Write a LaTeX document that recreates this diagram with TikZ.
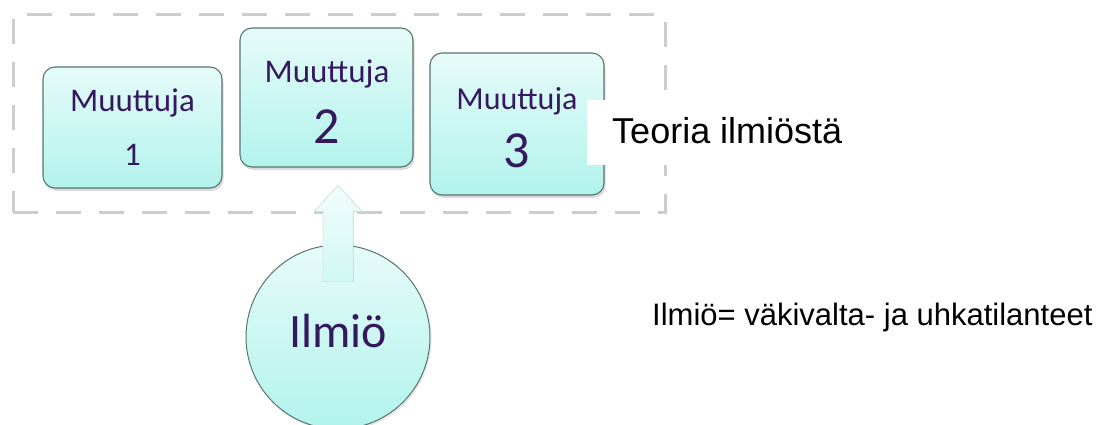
\documentclass[tikz,border=0pt]{standalone}
\usepackage{fontspec}
\setmainfont{Liberation Sans}
\newfontfamily\calib{Carlito}
\usetikzlibrary{shadows,calc}
\definecolor{boxtop}{HTML}{E6FBF9}
\definecolor{boxbot}{HTML}{B2F3EC}
\definecolor{boxedge}{HTML}{587572}
\definecolor{ink}{HTML}{35195F}
\definecolor{framegray}{HTML}{CDCDCD}
\definecolor{arrowtop}{HTML}{F3FDFC}
\definecolor{arrowbot}{HTML}{D0F8F4}
\definecolor{arrowedge}{HTML}{D2EAE7}
\begin{document}
\begin{tikzpicture}[x=1pt,y=-1pt,
  varbox/.style={draw=boxedge, line width=1.1pt, rounded corners=12pt,
    top color=boxtop, bottom color=boxbot, inner sep=0pt,
    drop shadow={opacity=0.28, shadow xshift=1.5pt, shadow yshift=-3pt}},
  bubble/.style={circle, draw=boxedge, line width=1pt, inner sep=0pt,
    top color=boxtop, bottom color=boxbot, minimum size=184pt,
    drop shadow={opacity=0.2, shadow xshift=1.5pt, shadow yshift=-2pt}},
  vtext/.style={text=ink, inner sep=0pt, anchor=base},
  note/.style={text=black, inner sep=0pt, anchor=base west},
  dashframe/.style={draw=framegray, line width=3pt, dash pattern=on 25pt off 18pt,
    inner sep=0pt},
]
\useasboundingbox[fill=white] (0,0) rectangle (1099,425);

% dashed frame around the three variables
\node[dashframe, minimum width=652pt, minimum height=197pt] (frame) at (339,113.5) {};

% variable boxes
\node[varbox, minimum width=179pt, minimum height=121pt] (box1) at (132.5,127.5) {};
\node[varbox, minimum width=173pt, minimum height=139pt] (box2) at (326.5,97.5) {};
\node[varbox, minimum width=174pt, minimum height=142pt] (box3) at (517,124) {};

\node[vtext, font=\calib\fontsize{33}{33}\selectfont] (m1) at (132.5,112) {Muuttuja};
\node[vtext, font=\calib\fontsize{33}{33}\selectfont] (n1) at (132.5,165) {1};
\node[vtext, font=\calib\fontsize{33}{33}\selectfont] (m2) at (327,83) {Muuttuja};
\node[vtext, font=\calib\fontsize{52}{52}\selectfont] (n2) at (327,143) {2};
\node[vtext, font=\calib\fontsize{32}{32}\selectfont] (m3) at (517,110) {Muuttuja};
\node[vtext, font=\calib\fontsize{52}{52}\selectfont] (n3) at (517,167) {3};

% label of the frame
\node[fill=white, inner sep=0pt, minimum width=270pt, minimum height=65pt,
  anchor=north west] (teobg) at (587,100) {};
\node[note, font=\fontsize{36}{36}\selectfont] (teoria) at (612,143) {Teoria ilmiöstä};

% phenomenon
\node[bubble] (ilmio) at (338,337) {};
\node[vtext, font=\calib\fontsize{48}{48}\selectfont] (ilmiotxt) at (338,347) {Ilmiö};

% block arrow from the phenomenon up to the variables
\coordinate (tip) at ($(ilmio.north |- box2.south)+(0,18)$);
\coordinate (foot) at ($(ilmio.north)+(0,37)$);
\filldraw[draw=arrowedge, line width=0.6pt, top color=arrowtop, bottom color=arrowbot]
  ($(foot)+(-15,0)$) -- ($(tip)+(-15,26)$) -- ($(tip)+(-24,26)$) -- (tip)
  -- ($(tip)+(24,26)$) -- ($(tip)+(15,26)$) -- ($(foot)+(15,0)$) -- cycle;

% definition
\node[note, font=\fontsize{31}{31}\selectfont] (def) at (652,325)
  {Ilmiö= väkivalta- ja uhkatilanteet};
\end{tikzpicture}
\end{document}
